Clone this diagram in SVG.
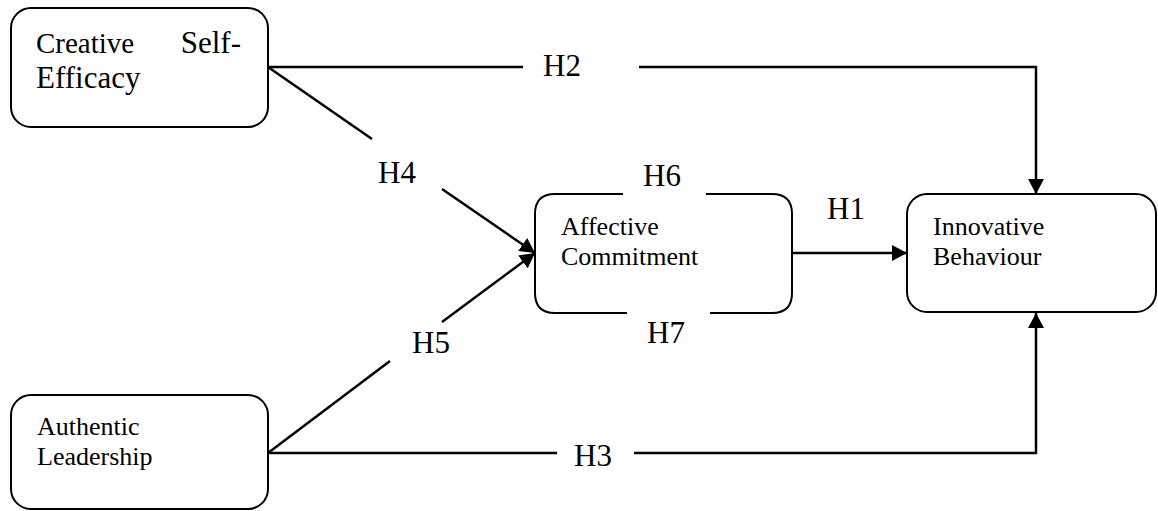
<svg xmlns="http://www.w3.org/2000/svg" width="1158" height="511" viewBox="0 0 1158 511">
<style>
.box{fill:#fff;stroke:#000;stroke-width:2}
.ln{fill:none;stroke:#000;stroke-width:2.5}
.t{font-family:"Liberation Serif","Times New Roman",serif;fill:#000}
.bt{font-size:26px}
.h{font-size:31px}
</style>
<defs>
<marker id="arr" markerUnits="userSpaceOnUse" markerWidth="16" markerHeight="16" refX="15" refY="8" orient="auto">
<path d="M0,0 L15,8 L0,16 z" fill="#000"/>
</marker>
</defs>
<rect width="1158" height="511" fill="#fff"/>
<g id="node-cse">
<rect class="box" x="11" y="8" width="257" height="119" rx="20"/>
<text class="t" x="36" y="53" font-size="29">Creative</text>
<text class="t" x="241" y="53" font-size="31" text-anchor="end">Self-</text>
<text class="t" x="36" y="88" font-size="31">Efficacy</text>
</g>
<g id="node-ac">
<path class="box" d="M623,194 L555,194 Q535,194 535,214 L535,293 Q535,313 555,313 L627,313 M710,313 L772,313 Q792,313 792,293 L792,214 Q792,194 772,194 L706,194"/>
<text class="t bt" x="561" y="235">Affective</text>
<text class="t bt" x="561" y="265">Commitment</text>
</g>
<g id="node-ib">
<rect class="box" x="907" y="194" width="249" height="118" rx="20"/>
<text class="t bt" x="933" y="235">Innovative</text>
<text class="t bt" x="933" y="265">Behaviour</text>
</g>
<g id="node-al">
<rect class="box" x="11" y="395" width="257" height="114" rx="20"/>
<text class="t bt" x="37" y="435">Authentic</text>
<text class="t bt" x="37" y="465">Leadership</text>
</g>
<g id="connectors">
<path class="ln" d="M268,67 L523,67"/>
<path class="ln" d="M639,67 L1036,67 L1036,194" marker-end="url(#arr)"/>
<path class="ln" d="M268,67 L372,139"/>
<path class="ln" d="M442,189 L535,253" marker-end="url(#arr)"/>
<path class="ln" d="M268,453 L390,361"/>
<path class="ln" d="M442,322 L535,253" marker-end="url(#arr)"/>
<path class="ln" d="M792,253 L907,253" marker-end="url(#arr)"/>
<path class="ln" d="M268,453 L557,453"/>
<path class="ln" d="M634,453 L1036,453 L1036,313" marker-end="url(#arr)"/>
</g>
<g id="labels">
<text class="t h" x="543" y="76">H2</text>
<text class="t h" x="378" y="183">H4</text>
<text class="t h" x="643" y="186">H6</text>
<text class="t h" x="827" y="219">H1</text>
<text class="t h" x="647" y="343">H7</text>
<text class="t h" x="412" y="353">H5</text>
<text class="t h" x="574" y="466">H3</text>
</g>
</svg>
